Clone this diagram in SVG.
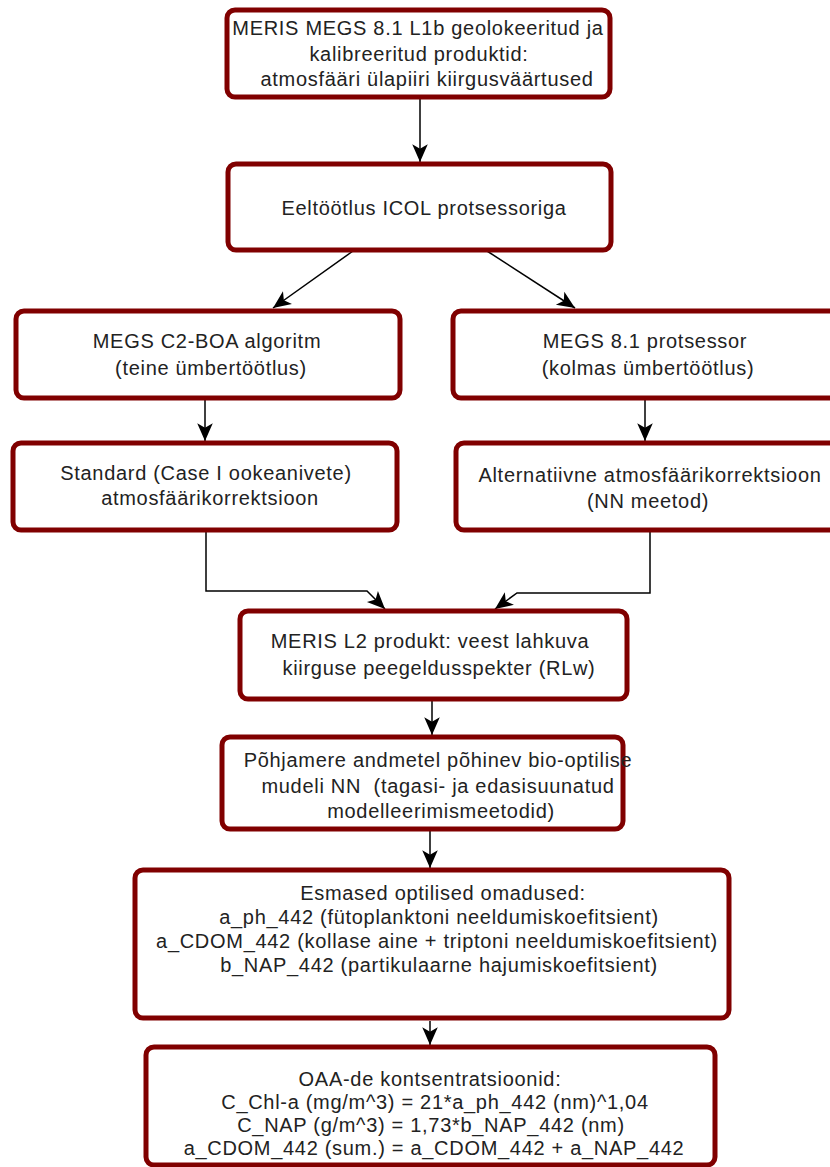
<svg xmlns="http://www.w3.org/2000/svg" width="830" height="1167" viewBox="0 0 830 1167">
<style>
.box{fill:#ffffff;stroke:#800000;stroke-width:5}
.t{font-family:"Liberation Sans",Arial,sans-serif;font-size:20px;letter-spacing:0.7px;fill:#222222;text-anchor:middle}
.c{fill:none;stroke:#000;stroke-width:1.5}
</style>
<defs>
<marker id="arr" markerUnits="userSpaceOnUse" markerWidth="20" markerHeight="20" viewBox="-1 -8 18 16" refX="16" refY="0" orient="auto">
<path d="M0,-7 L16,0 L0,7 L4,0 Z" fill="#000"/>
</marker>
</defs>
<rect width="830" height="1167" fill="#fff"/>
<g id="connectors">
<line class="c" x1="420" y1="99" x2="420" y2="162" marker-end="url(#arr)"/>
<line class="c" x1="353" y1="251" x2="273" y2="308" marker-end="url(#arr)"/>
<line class="c" x1="487" y1="251" x2="575" y2="308" marker-end="url(#arr)"/>
<line class="c" x1="205" y1="399" x2="205" y2="441" marker-end="url(#arr)"/>
<line class="c" x1="645" y1="399" x2="645" y2="441" marker-end="url(#arr)"/>
<polyline class="c" points="206,531 206,591 367,591 385,609" marker-end="url(#arr)"/>
<polyline class="c" points="650,531 650,593 517,593 495,609" marker-end="url(#arr)"/>
<line class="c" x1="432" y1="701" x2="432" y2="735" marker-end="url(#arr)"/>
<line class="c" x1="430" y1="831" x2="430" y2="868" marker-end="url(#arr)"/>
<line class="c" x1="430" y1="1021" x2="430" y2="1045" marker-end="url(#arr)"/>
</g>
<g id="n1">
<rect class="box" x="227" y="10" width="383" height="87" rx="8"/>
<text class="t" x="418" y="35">MERIS MEGS 8.1 L1b geolokeeritud ja</text>
<text class="t" x="419" y="61">kalibreeritud produktid:</text>
<text class="t" x="427" y="86">atmosfääri ülapiiri kiirgusväärtused</text>
</g>
<g id="n2">
<rect class="box" x="228" y="164" width="383" height="86" rx="8"/>
<text class="t" x="424" y="215">Eeltöötlus ICOL protsessoriga</text>
</g>
<g id="n3">
<rect class="box" x="16" y="311" width="384" height="87" rx="8"/>
<text class="t" x="207" y="348">MEGS C2-BOA algoritm</text>
<text class="t" x="211" y="375">(teine ümbertöötlus)</text>
</g>
<g id="n4">
<rect class="box" x="13" y="443" width="384" height="87" rx="8"/>
<text class="t" x="206" y="480">Standard (Case I ookeanivete)</text>
<text class="t" x="210" y="505">atmosfäärikorrektsioon</text>
</g>
<g id="n5">
<rect class="box" x="453" y="311" width="384" height="87" rx="8"/>
<text class="t" x="645" y="348">MEGS 8.1 protsessor</text>
<text class="t" x="648" y="375">(kolmas ümbertöötlus)</text>
</g>
<g id="n6">
<rect class="box" x="456" y="443" width="384" height="87" rx="8"/>
<text class="t" x="650" y="482">Alternatiivne atmosfäärikorrektsioon</text>
<text class="t" x="648" y="508">(NN meetod)</text>
</g>
<g id="n7">
<rect class="box" x="240" y="611" width="387" height="88" rx="8"/>
<text class="t" x="430" y="648">MERIS L2 produkt: veest lahkuva</text>
<text class="t" x="439" y="675">kiirguse peegeldusspekter (RLw)</text>
</g>
<g id="n8">
<rect class="box" x="222" y="737" width="401" height="92" rx="8"/>
<text class="t" x="438" y="767">Põhjamere andmetel põhinev bio-optilise</text>
<text class="t" x="438" y="793" xml:space="preserve">mudeli NN  (tagasi- ja edasisuunatud</text>
<text class="t" x="441" y="818">modelleerimismeetodid)</text>
</g>
<g id="n9">
<rect class="box" x="135" y="870" width="594" height="148" rx="8"/>
<text class="t" x="443" y="900">Esmased optilised omadused:</text>
<text class="t" x="439" y="924">a_ph_442 (fütoplanktoni neeldumiskoefitsient)</text>
<text class="t" x="437" y="948">a_CDOM_442 (kollase aine + triptoni neeldumiskoefitsient)</text>
<text class="t" x="439" y="972">b_NAP_442 (partikulaarne hajumiskoefitsient)</text>
</g>
<g id="n10">
<rect class="box" x="146" y="1047" width="569" height="118" rx="8"/>
<text class="t" x="430" y="1086">OAA-de kontsentratsioonid:</text>
<text class="t" x="435" y="1109">C_Chl-a (mg/m^3) = 21*a_ph_442 (nm)^1,04</text>
<text class="t" x="431" y="1132">C_NAP (g/m^3) = 1,73*b_NAP_442 (nm)</text>
<text class="t" x="434" y="1155">a_CDOM_442 (sum.) = a_CDOM_442 + a_NAP_442</text>
</g>
</svg>
